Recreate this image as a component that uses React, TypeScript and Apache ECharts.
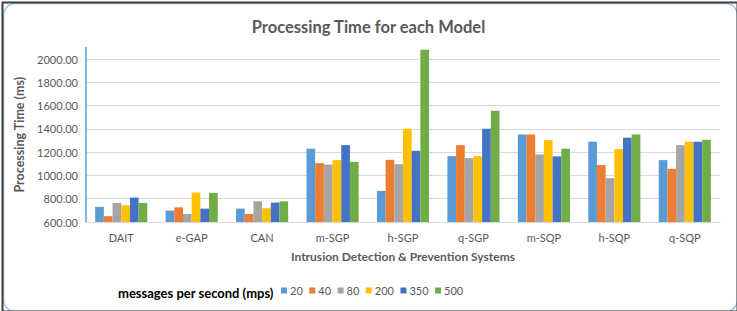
import React, { useEffect, useRef } from "react";
import * as echarts from "echarts";

const categories = ["DAIT", "e-GAP", "CAN", "m-SGP", "h-SGP", "q-SGP", "m-SQP", "h-SQP", "q-SQP"];
const seriesNames = ["20", "40", "80", "200", "350", "500"];
const s20 = [730, 698, 715, 1230, 867, 1166, 1353, 1290, 1132];
const s40 = [650, 726, 669, 1106, 1135, 1261, 1353, 1089, 1057];
const s80 = [764, 669, 778, 1094, 1097, 1149, 1181, 977, 1261];
const s200 = [744, 853, 718, 1132, 1402, 1166, 1304, 1227, 1290];
const s350 = [810, 715, 767, 1261, 1212, 1402, 1164, 1325, 1290];
const s500 = [764, 850, 778, 1117, 2081, 1557, 1230, 1353, 1307];
const seriesValues = [s20, s40, s80, s200, s350, s500];
const colors = ["#5B9BD5", "#ED7D31", "#A5A5A5", "#FFC000", "#4472C4", "#70AD47"];

const FONT = "Lato, 'Open Sans', sans-serif";

export default function App() {
  const ref = useRef<HTMLDivElement>(null);
  useEffect(() => {
    if (!ref.current) return;
    const chart = echarts.init(ref.current, undefined, { renderer: "svg" });
    chart.setOption({
      animation: false,
      backgroundColor: "#ffffff",
      color: colors,
      textStyle: { fontFamily: FONT },
      title: [
        {
          text: "Processing Time for each Model",
          left: "center",
          top: 13,
          textStyle: { fontFamily: FONT, fontSize: 16.5, fontWeight: "bold", color: "#595959" },
        },
        {
          text: "messages per second (mps)",
          left: 113,
          top: 281,
          textStyle: { fontFamily: FONT, fontSize: 13, fontWeight: "bold", color: "#000000" },
        },
      ],
      legend: {
        left: 281,
        top: 285,
        padding: 0,
        itemWidth: 6,
        itemHeight: 6,
        itemGap: 6.5,
        icon: "rect",
        textStyle: { fontFamily: FONT, fontSize: 11, color: "#595959", padding: [0, 0, 0, -2] },
        data: seriesNames,
      },
      grid: { left: 86, right: 17, top: 47.5, bottom: 89, containLabel: false },
      xAxis: {
        type: "category",
        data: categories,
        name: "Intrusion Detection & Prevention Systems",
        nameLocation: "middle",
        nameGap: 28,
        nameTextStyle: { fontFamily: FONT, fontSize: 12, fontWeight: "bold", color: "#595959" },
        axisLine: { show: true, lineStyle: { color: "#D9D9D9", width: 1 } },
        axisTick: { show: false },
        axisLabel: { fontFamily: FONT, fontSize: 11, color: "#595959", margin: 10 },
      },
      yAxis: {
        type: "value",
        min: 600,
        max: 2100,
        interval: 200,
        name: "Processing Time (ms)",
        nameLocation: "middle",
        nameGap: 48,
        nameTextStyle: { fontFamily: FONT, fontSize: 12.5, fontWeight: "bold", color: "#595959" },
        axisLine: { show: true, lineStyle: { color: "#5B9BD5", width: 1.5 } },
        axisTick: { show: false },
        axisLabel: {
          fontFamily: FONT,
          fontSize: 11,
          color: "#595959",
          margin: 8,
          showMaxLabel: false,
          formatter: (v: number) => (v === 2100 ? "" : v.toFixed(2)),
        },
        splitLine: { show: true, showMaxLine: false, showMinLine: false, lineStyle: { color: "#D9D9D9", width: 1 } },
      },
      series: seriesNames.map((name, i) => ({
        name,
        type: "bar",
        data: seriesValues[i],
        barGap: "0%",
        barCategoryGap: "26%",
        itemStyle: { color: colors[i] },
      })),
      graphic: [
        {
          type: "rect",
          left: 1,
          top: 1,
          shape: { width: 734, height: 308, r: 12 },
          style: { fill: "none", stroke: "#9DC3E6", lineWidth: 1.5 },
          silent: true,
        },
        {
          type: "rect",
          left: 0,
          top: 0,
          shape: { width: 735, height: 309, r: 0 },
          style: { fill: "none", stroke: "#3F3F3F", lineWidth: 2 },
          silent: true,
        },
      ],
    });
    return () => chart.dispose();
  }, []);
  return (
    <div
      ref={ref}
      style={{ position: "absolute", left: 0, top: 0, width: 737, height: 311 }}
    />
  );
}
